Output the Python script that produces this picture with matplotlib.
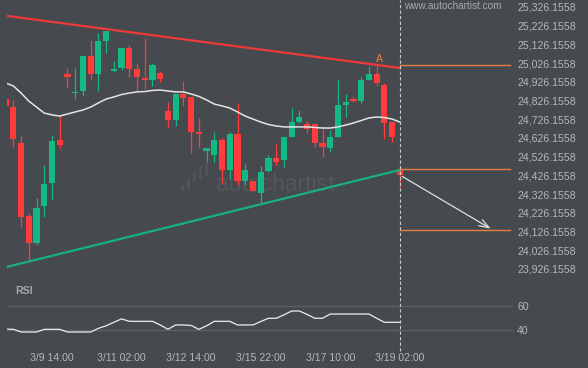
import matplotlib
matplotlib.use("Agg")
import matplotlib.pyplot as plt
from matplotlib.patches import Rectangle
from matplotlib.ticker import FixedLocator, FuncFormatter

# ---- data (prices) ----
opens = [24834, 24791, 24599, 24209, 24065, 24263, 24385, 24615, 24968, 24866,
         24877, 25064, 24968, 25144, 24984, 25000, 25107, 24994, 24946, 24936,
         24973, 24770, 24722, 24861, 24845, 24658, 24556, 24535, 24615, 24455,
         24647, 24396, 24396, 24332, 24450, 24519, 24508, 24631, 24711, 24701,
         24701, 24599, 24572, 24631, 24802, 24834, 24824, 24936, 24968, 24909,
         24711, 24455]
highs = [24840, 24829, 24636, 24225, 24305, 24482, 24642, 24743, 25000, 25000,
         25069, 25149, 25187, 25197, 25037, 25107, 25123, 25026, 25160, 25026,
         24978, 24818, 24861, 24930, 24845, 24733, 24572, 24658, 24626, 24658,
         24813, 24487, 24396, 24476, 24535, 24594, 24631, 24786, 24775, 24717,
         24701, 24674, 24669, 24941, 24861, 24850, 24952, 25010, 25021, 24920,
         24711, 24476]
lows = [24797, 24578, 24150, 23974, 24054, 24204, 24295, 24572, 24893, 24834,
        24850, 24936, 24877, 25080, 24978, 24989, 24952, 24877, 24888, 24904,
        24925, 24685, 24690, 24797, 24546, 24572, 24498, 24498, 24385, 24407,
        24375, 24375, 24343, 24279, 24444, 24482, 24471, 24631, 24706, 24653,
        24578, 24524, 24551, 24631, 24738, 24818, 24813, 24936, 24904, 24620,
        24604, 24364]
closes = [24797, 24620, 24204, 24065, 24252, 24380, 24610, 24588, 24952, 24872,
          25064, 24968, 25144, 25197, 24994, 25107, 24994, 24952, 24936, 25016,
          24941, 24722, 24861, 24840, 24658, 24647, 24572, 24615, 24455, 24647,
          24396, 24455, 24343, 24444, 24519, 24498, 24631, 24711, 24738, 24674,
          24599, 24578, 24631, 24802, 24818, 24824, 24936, 24968, 24920, 24706,
          24631, 24428]
ma = [24920, 24904, 24866, 24823, 24791, 24759, 24749, 24743, 24754, 24765,
      24775, 24791, 24813, 24834, 24845, 24858, 24866, 24872, 24874, 24880,
      24882, 24877, 24872, 24872, 24861, 24848, 24829, 24807, 24797, 24786,
      24765, 24743, 24727, 24711, 24698, 24690, 24685, 24685, 24685, 24685,
      24682, 24679, 24679, 24685, 24695, 24706, 24719, 24733, 24738, 24735,
      24727, 24711]
rsi = [41, 40.8, 38.6, 38.6, 38.6, 40.8, 40.8, 40.8, 38.6, 38.6,
       38.6, 38.6, 41.6, 43.7, 46.6, 49.4, 47.4, 47.4, 47.4, 47.4,
       44.4, 40.8, 44.4, 44.4, 44.0, 40.8, 43.7, 47.4, 47.4, 47.4,
       44.4, 44.4, 44.4, 47.2, 49.9, 49.9, 52.7, 55.9, 55.9, 53.1,
       49.9, 49.9, 53.4, 53.4, 53.4, 53.4, 53.4, 53.4, 49.9, 46.6,
       46.6, 46.6]

date_idx = [6, 15, 24, 33, 42, 51]
date_labels = ["3/9 14:00", "3/11 02:00", "3/12 14:00", "3/15 22:00", "3/17 10:00", "3/19 02:00"]

resist_x = [0.18, 51.0]
resist_y = [25278, 25000]
support_x = [0.18, 51.0]
support_y = [23937, 24455]
levels = [25014, 24459, 24134]       # orange levels to the right
arrow_from = (51.0, 24428)
arrow_to = (63.05, 24134)
point_a = (48.4, 25048)
price_ticks = [23926.1558 + 100 * k for k in range(15)]

BG = "#46494e"
TXT = "#b5b7ba"
UP = "#14b882"
DOWN = "#ff3b3b"
ORANGE = "#e8803f"
plt.rcParams['font.family'] = ['Liberation Sans', 'DejaVu Sans']

W, H = 588, 368
fig = plt.figure(figsize=(W / 100, H / 100), dpi=100, facecolor=BG)

def box(l, t, r, b):
    return [l / W, 1 - b / H, (r - l) / W, (b - t) / H]

ax = fig.add_axes(box(7, 0, 513, 280), facecolor=BG)
ax2 = fig.add_axes(box(7, 285, 513, 345), facecolor=BG)
xlim = (0.18, 65.64)

# watermark (behind everything)
ax.text(0.53, 0.34, "autochartist", transform=ax.transAxes, fontsize=16.5,
        color="#54575c", ha="center", va="center", zorder=0)
for bx, b0, b1 in [(0.343, 0.32, 0.34), (0.355, 0.32, 0.365),
                   (0.367, 0.35, 0.39), (0.379, 0.36, 0.41),
                   (0.391, 0.37, 0.42)]:
    ax.add_patch(Rectangle((bx, b0), 0.006, b1 - b0, transform=ax.transAxes,
                           color="#505358", zorder=0, lw=0))

# candles
for k in range(len(opens)):
    o, h, l, c = opens[k], highs[k], lows[k], closes[k]
    col = UP if c >= o else DOWN
    ax.plot([k, k], [l, h], color=col, lw=0.9, zorder=3, solid_capstyle="butt")
    lo, hi = min(o, c), max(o, c)
    ax.add_patch(Rectangle((k - 0.4, lo), 0.8, max(hi - lo, 6), color=col, lw=0, zorder=4))

ax.plot(range(len(ma)), ma, color="#e4e4e4", lw=1.1, zorder=5)
ax.plot(resist_x, resist_y, color="#ee3a3a", lw=1.6, zorder=6)
ax.plot(support_x, support_y, color="#18b07e", lw=1.6, zorder=6)
for lv in levels:
    ax.plot([51.0, 65.25], [lv, lv], color=ORANGE, lw=1.0, zorder=6)
ax.annotate("", xy=arrow_to, xytext=arrow_from,
            arrowprops=dict(arrowstyle="->,head_length=0.7,head_width=0.25",
                            color="#e0e0e0", lw=0.9), zorder=7)
ax.text(point_a[0], point_a[1], "A", color=ORANGE, fontsize=7.5, ha="center", va="center", zorder=7)
ax.text(0.785, 0.978, "www.autochartist.com", transform=ax.transAxes, fontsize=7.2,
        color="#a8aaae", ha="left", va="center", zorder=7)
ax.axvline(51.0, color="#c9cacc", lw=0.8, ls=(0, (3, 2)), zorder=8)

ax.set_xlim(*xlim)
ax.set_ylim(23867.2, 25363)
ax.yaxis.tick_right()
ax.yaxis.set_major_locator(FixedLocator(price_ticks))
ax.yaxis.set_major_formatter(FuncFormatter(lambda v, p: f"{v:,.4f}"))
ax.tick_params(axis="y", length=0, pad=3, labelsize=7.6, labelcolor=TXT)
ax.set_xticks([])
for s in ax.spines.values():
    s.set_visible(False)

# RSI panel
ax2.plot(range(len(rsi)), rsi, color="#eeeeee", lw=0.9, zorder=5)
ax2.set_xlim(*xlim)
ax2.set_ylim(27.9, 77.3)
for g in (40, 60):
    ax2.axhline(g, color="#5e6166", lw=0.9, zorder=1)
ax2.axvline(51.0, ymin=-0.1, ymax=1.1, color="#c9cacc", lw=0.8, ls=(0, (3, 2)),
            zorder=8, clip_on=False)
ax2.text(0.016, 0.9, "RSI", transform=ax2.transAxes, fontsize=7.6, fontweight="bold",
         color="#a6a8ac", ha="left", va="center")
ax2.yaxis.tick_right()
ax2.set_yticks([40, 60])
ax2.tick_params(axis="y", length=0, pad=3, labelsize=7.6, labelcolor=TXT)
ax2.set_xticks(date_idx)
ax2.set_xticklabels(date_labels)
ax2.tick_params(axis="x", length=0, pad=5.5, labelsize=7.6, labelcolor=TXT)
for s in ax2.spines.values():
    s.set_visible(False)

fig.savefig("out.png", dpi=100, facecolor=BG)
